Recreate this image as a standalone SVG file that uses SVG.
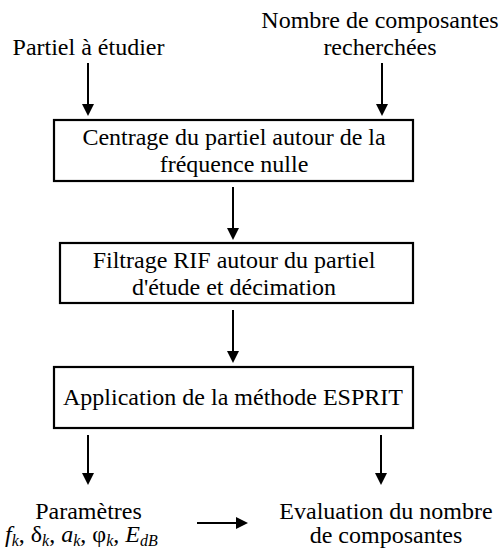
<svg xmlns="http://www.w3.org/2000/svg" width="502" height="549" viewBox="0 0 502 549">
<defs>
<marker id="ah" viewBox="0 0 12 12" refX="2" refY="6" markerWidth="12" markerHeight="12" markerUnits="userSpaceOnUse" orient="auto">
<path d="M0,0 L12,6 L0,12 z" fill="#000"/>
</marker>
<style>
text{fill:#000;font-family:"Times New Roman","Liberation Serif","DejaVu Serif",serif;font-size:24px}
.box{fill:#fff;stroke:#000;stroke-width:2.2}
.c{stroke:#000;stroke-width:2;fill:none;marker-end:url(#ah)}
.m{text-anchor:middle}
.i{font-style:italic}
.s{font-size:16px;font-style:italic}
</style>
</defs>
<rect width="502" height="549" fill="#fff"/>
<g id="in1"><text class="m" x="88.5" y="55">Partiel à étudier</text></g>
<g id="in2"><text class="m" x="380" y="28">Nombre de composantes</text><text class="m" x="380" y="55">recherchées</text></g>
<g id="box1"><rect class="box" x="54" y="120" width="359" height="61"/><text class="m" x="234" y="145">Centrage du partiel autour de la</text><text class="m" x="234" y="172">fréquence nulle</text></g>
<g id="box2"><rect class="box" x="60" y="243" width="353" height="60"/><text class="m" x="234" y="268">Filtrage RIF autour du partiel</text><text class="m" x="234" y="295">d'étude et décimation</text></g>
<g id="box3"><rect class="box" x="54" y="367" width="359" height="61"/><text class="m" x="233" y="405">Application de la méthode ESPRIT</text></g>
<g id="out1"><text class="m" x="88.5" y="519">Paramètres</text><text x="5" y="542"><tspan class="i">f</tspan><tspan class="s" dy="4">k</tspan><tspan dy="-4">, δ</tspan><tspan class="s" dy="4">k</tspan><tspan dy="-4">, </tspan><tspan class="i">a</tspan><tspan class="s" dy="4">k</tspan><tspan dy="-4">, φ</tspan><tspan class="s" dy="4">k</tspan><tspan dy="-4">, </tspan><tspan class="i">E</tspan><tspan class="s" dy="4">dB</tspan></text></g>
<g id="out2"><text class="m" x="386" y="519">Evaluation du nombre</text><text class="m" x="386" y="543">de composantes</text></g>
<g id="connectors">
<line class="c" x1="88" y1="63" x2="88" y2="106"/>
<line class="c" x1="382" y1="63" x2="382" y2="106"/>
<line class="c" x1="233" y1="187" x2="233" y2="230"/>
<line class="c" x1="233" y1="310" x2="233" y2="353"/>
<line class="c" x1="88" y1="435" x2="88" y2="475"/>
<line class="c" x1="381" y1="435" x2="381" y2="475"/>
<line class="c" x1="197" y1="523" x2="238" y2="523"/>
</g>
</svg>
